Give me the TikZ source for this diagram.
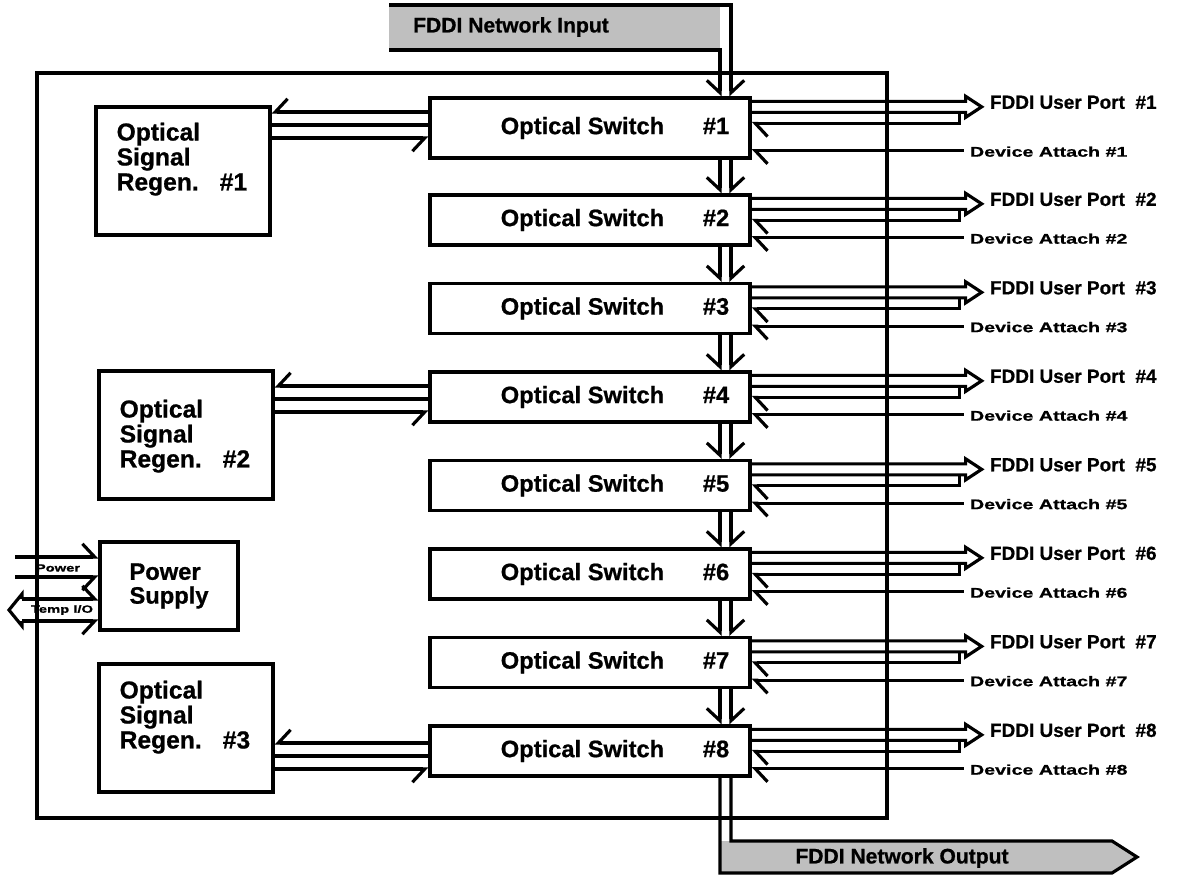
\documentclass[tikz,border=0pt]{standalone}
\usepackage{fontspec}
\setmainfont{Liberation Sans}[BoldFeatures={FakeBold=0.8}]
\newfontfamily\widefont[FakeStretch=1.4,BoldFeatures={FakeBold=0.8}]{Liberation Sans}
\usetikzlibrary{arrows.meta,calc,positioning}
\tikzset{
  box/.style={draw, line width=1.9pt, inner sep=0pt},
  switchbox/.style={box, minimum width=6.4cm, minimum height=1cm},
  regenbox/.style={box, minimum width=3.48cm, minimum height=2.56cm},
  wire/.style={line width=1.8pt},
  barbL/.style={-{Straight Barb[harpoon,length=7pt,width=15pt]}},
  barbR/.style={-{Straight Barb[harpoon,swap,length=7pt,width=15pt]}},
  banner/.style={fill=black!25}
}

\begin{document}
\begin{tikzpicture}[x=0.02cm, y=-0.02cm,
    swfont/.style={font=\fontsize{13.5}{15}\selectfont\bfseries},
    regfont/.style={font=\fontsize{14}{14.2}\selectfont\bfseries, align=left, inner sep=0pt, anchor=north west},
    portfont/.style={font=\fontsize{10.8}{12}\selectfont\bfseries, anchor=west, inner sep=0pt},
    devfont/.style={font=\widefont\bfseries\fontsize{8}{9}\selectfont, anchor=west, inner sep=0pt},
    tinyfont/.style={font=\widefont\bfseries\fontsize{6}{7}\selectfont, inner sep=0pt},
    bannerfont/.style={font=\fontsize{12}{13}\selectfont\bfseries}]
  \useasboundingbox (0,0) rectangle (1183,875);

  % chassis
  \node[box, minimum width=17cm, minimum height=14.9cm] (chassis) at (462,445.5) {};

  % switch column
  \node[switchbox, minimum height=1.2cm] (sw1) at (590,128) {};
  \foreach \i [evaluate=\i as \yc using 220+88.5*(\i-2)] in {2,...,8}
    \node[switchbox] (sw\i) at (590,\yc) {};
  \foreach \i in {1,...,8}
    \node[swfont] (swl\i) at ($(sw\i.center)+(25,0)$) {Optical Switch\hspace{22pt}\#\i};
  \foreach \i [count=\j from 2] in {1,...,7} {
    \draw[wire, barbR] ($(sw\i.south)+(130,0)$) -- ($(sw\j.north)+(130,0)$);
    \draw[wire, barbL] ($(sw\i.south)+(141,0)$) -- ($(sw\j.north)+(141,0)$);
  }

  % network input
  \coordinate (inA) at (389,5);
  \coordinate (inB) at (389,50);
  \fill[banner] (inA) rectangle (720,50);
  \node[bannerfont] (netin) at (511,27) {FDDI Network Input};
  \draw[wire, barbL] (inA) -| ($(sw1.north)+(141,0)$);
  \draw[wire, barbR] (inB) -| ($(sw1.north)+(130,0)$);

  % network output
  \fill[banner] (720,841) -- (1112,841) -- (1137,857) -- (1112,873) -- (720,873) -- cycle;
  \draw[wire] ($(sw8.south)+(141,0)$) |- (1112,841) -- (1137,857) -- (1112,873) -| ($(sw8.south)+(130,0)$);
  \node[bannerfont] (netout) at (902,858) {FDDI Network Output};

  % regenerators
  \node[regenbox] (reg1) at (183,171) {};
  \node[regenbox] (reg2) at (186,435) {};
  \node[regenbox] (reg3) at (186,728) {};
  \node[regfont] (regl1) at ($(reg1.north west)+(22,17)$) {Optical\\Signal\\Regen.\hspace{12pt}\#1};
  \node[regfont] (regl2) at ($(reg2.north west)+(22,30)$) {Optical\\Signal\\Regen.\hspace{12pt}\#2};
  \node[regfont] (regl3) at ($(reg3.north west)+(22,18)$) {Optical\\Signal\\Regen.\hspace{12pt}\#3};
  \foreach \r/\s/\d in {1/1/-3,2/4/2,3/8/5} {
    \draw[wire, barbR] ($(sw\s.west)+(0,\d-13)$) -- ($(reg\r.east |- sw\s.west)+(0,\d-13)$);
    \draw[wire] ($(sw\s.west)+(0,\d)$) -- ($(reg\r.east |- sw\s.west)+(0,\d)$);
    \draw[wire, barbR] ($(reg\r.east |- sw\s.west)+(0,\d+13)$) -- ($(sw\s.west)+(0,\d+13)$);
  }

  % user ports and device attach
  \foreach \i in {1,...,8} {
    \draw[wire] ($(sw\i.north east)+(0,5)$) -- ++(214,0) -- ++(0,-5) -- ++(16,10.5)
      -- ++(-16,10.5) -- ++(0,-5) -- ($(sw\i.north east)+(0,16)$);
    \draw[wire, barbL] ($(sw\i.north east)+(208,16)$) |- ($(sw\i.north east)+(0,27)$);
    \draw[wire, barbL] ($(sw\i.south east)+(212,-9)$) -- ($(sw\i.south east)+(0,-9)$);
    \node[portfont] (up\i) at ($(sw\i.north east)+(238,6)$) {FDDI User Port~~\#\i};
    \node[devfont] (da\i) at ($(sw\i.south east)+(218,-8)$) {Device Attach \#\i};
  }

  % power supply
  \node[box, minimum width=2.76cm, minimum height=1.76cm, align=left,
        font=\fontsize{13.5}{13.6}\selectfont\bfseries] (psu) at (169,586) {Power\\Supply};
  \coordinate (pwr) at (15,567);
  \coordinate (tmp) at (9,610);
  \draw[wire, barbL] ($(pwr)+(0,-10)$) -- ($(psu.west |- pwr)+(0,-10)$);
  \draw[wire, barbR] ($(pwr)+(0,10)$) -- ($(psu.west |- pwr)+(0,10)$);
  \node[tinyfont] (pwrl) at (58,568) {Power};
  \draw[wire] ($(tmp)+(13,-11)$) -- ++(0,-5) -- (tmp) -- ($(tmp)+(13,16)$) -- ++(0,-5);
  \draw[wire, barbL] ($(tmp)+(13,-11)$) -- ($(psu.west |- tmp)+(0,-11)$);
  \draw[wire, barbR] ($(tmp)+(13,11)$) -- ($(psu.west |- tmp)+(0,11)$);
  \node[tinyfont] (tmpl) at (62,610) {Temp I/O};
\end{tikzpicture}
\end{document}
